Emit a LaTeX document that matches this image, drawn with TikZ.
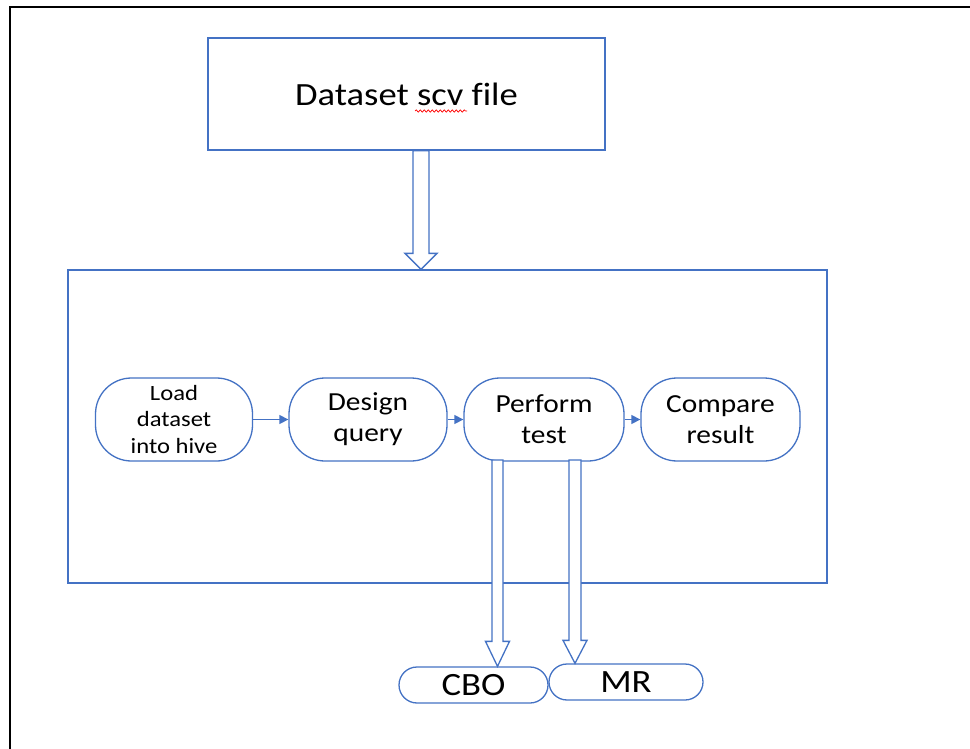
\documentclass[tikz,border=0pt]{standalone}
\usepackage{fontspec}
\setmainfont{Carlito}[Ligatures=NoCommon,FakeStretch=1.13]
\usetikzlibrary{arrows.meta,calc,decorations.pathmorphing}
\definecolor{oblue}{HTML}{4472C4}
\tikzset{
  box/.style={draw=oblue,line width=1.3pt,fill=white,inner sep=0pt},
  stepbox/.style={box,rounded corners=36pt,minimum height=83pt,align=center,font=\fontsize{26}{31}\selectfont},
  pill/.style={box,rounded corners=18pt,minimum height=36pt,font=\fontsize{32.5}{36}\selectfont},
  flow/.style={draw=oblue,line width=1.3pt,-{Triangle[length=9pt,width=9pt]}},
  harrow/.style={draw=oblue,line width=1.3pt,fill=white,line join=miter},
}
% hollow block arrow: start coord, tip coord, half shaft, half head, head length
\newcommand\blockarrow[5]{%
  \draw[harrow] let \p1=(#1), \p2=(#2) in
    (\x1-#3,\y1) -- (\x1-#3,\y2+#5) -- (\x1-#4,\y2+#5) -- (\x2,\y2)
    -- (\x1+#4,\y2+#5) -- (\x1+#3,\y2+#5) -- (\x1+#3,\y1) -- cycle;}
\begin{document}
\begin{tikzpicture}[x=1pt,y=-1pt]
\useasboundingbox (0,0) rectangle (970,749);
\fill[white] (0,0) rectangle (970,749);
% outer frame (top and left only)
\draw[black,line width=2.6pt] (970,7) -- (10,7) -- (10,749);

\node[box,minimum width=397pt,minimum height=112pt,font=\fontsize{32.4}{38}\selectfont] (top) at (406.5,94) {Dataset scv file};
\draw[red,line width=0.7pt,decorate,decoration={snake,segment length=4pt,amplitude=1.2pt}] (415,111) -- (467,111);

\node[box,minimum width=759pt,minimum height=313pt] (main) at (447.5,426.5) {};

\node[stepbox,minimum width=157pt,font=\fontsize{21.8}{26.5}\selectfont] (load) at (174,419.5) {Load\\dataset\\into hive};
\node[stepbox,minimum width=158pt] (design) at (368,419.5) {Design\\query};
\node[stepbox,minimum width=160pt] (perform) at (544,419.5) {Perform\\test};
\node[stepbox,minimum width=159pt] (compare) at (720.5,419.5) {Compare\\result};

\draw[flow] (load) -- (design);
\draw[flow] (design) -- (perform);
\draw[flow] (perform) -- (compare);

\node[pill,minimum width=149pt] (cbo) at (473.5,685) {CBO};
\node[pill,minimum width=154pt] (mr) at (626,682) {MR};

\coordinate (a1s) at ($(top.south)+(14.5,0)$);
\coordinate (a1e) at (a1s |- main.north);
\blockarrow{a1s}{a1e}{8pt}{16pt}{16pt}

\coordinate (a2s) at (497.5,460);
\coordinate (a2e) at (a2s |- cbo.north);
\blockarrow{a2s}{a2e}{5.5pt}{12pt}{25pt}

\coordinate (a3s) at (575,460);
\coordinate (a3e) at (a3s |- mr.north);
\blockarrow{a3s}{a3e}{6pt}{12pt}{23pt}
\end{tikzpicture}
\end{document}
